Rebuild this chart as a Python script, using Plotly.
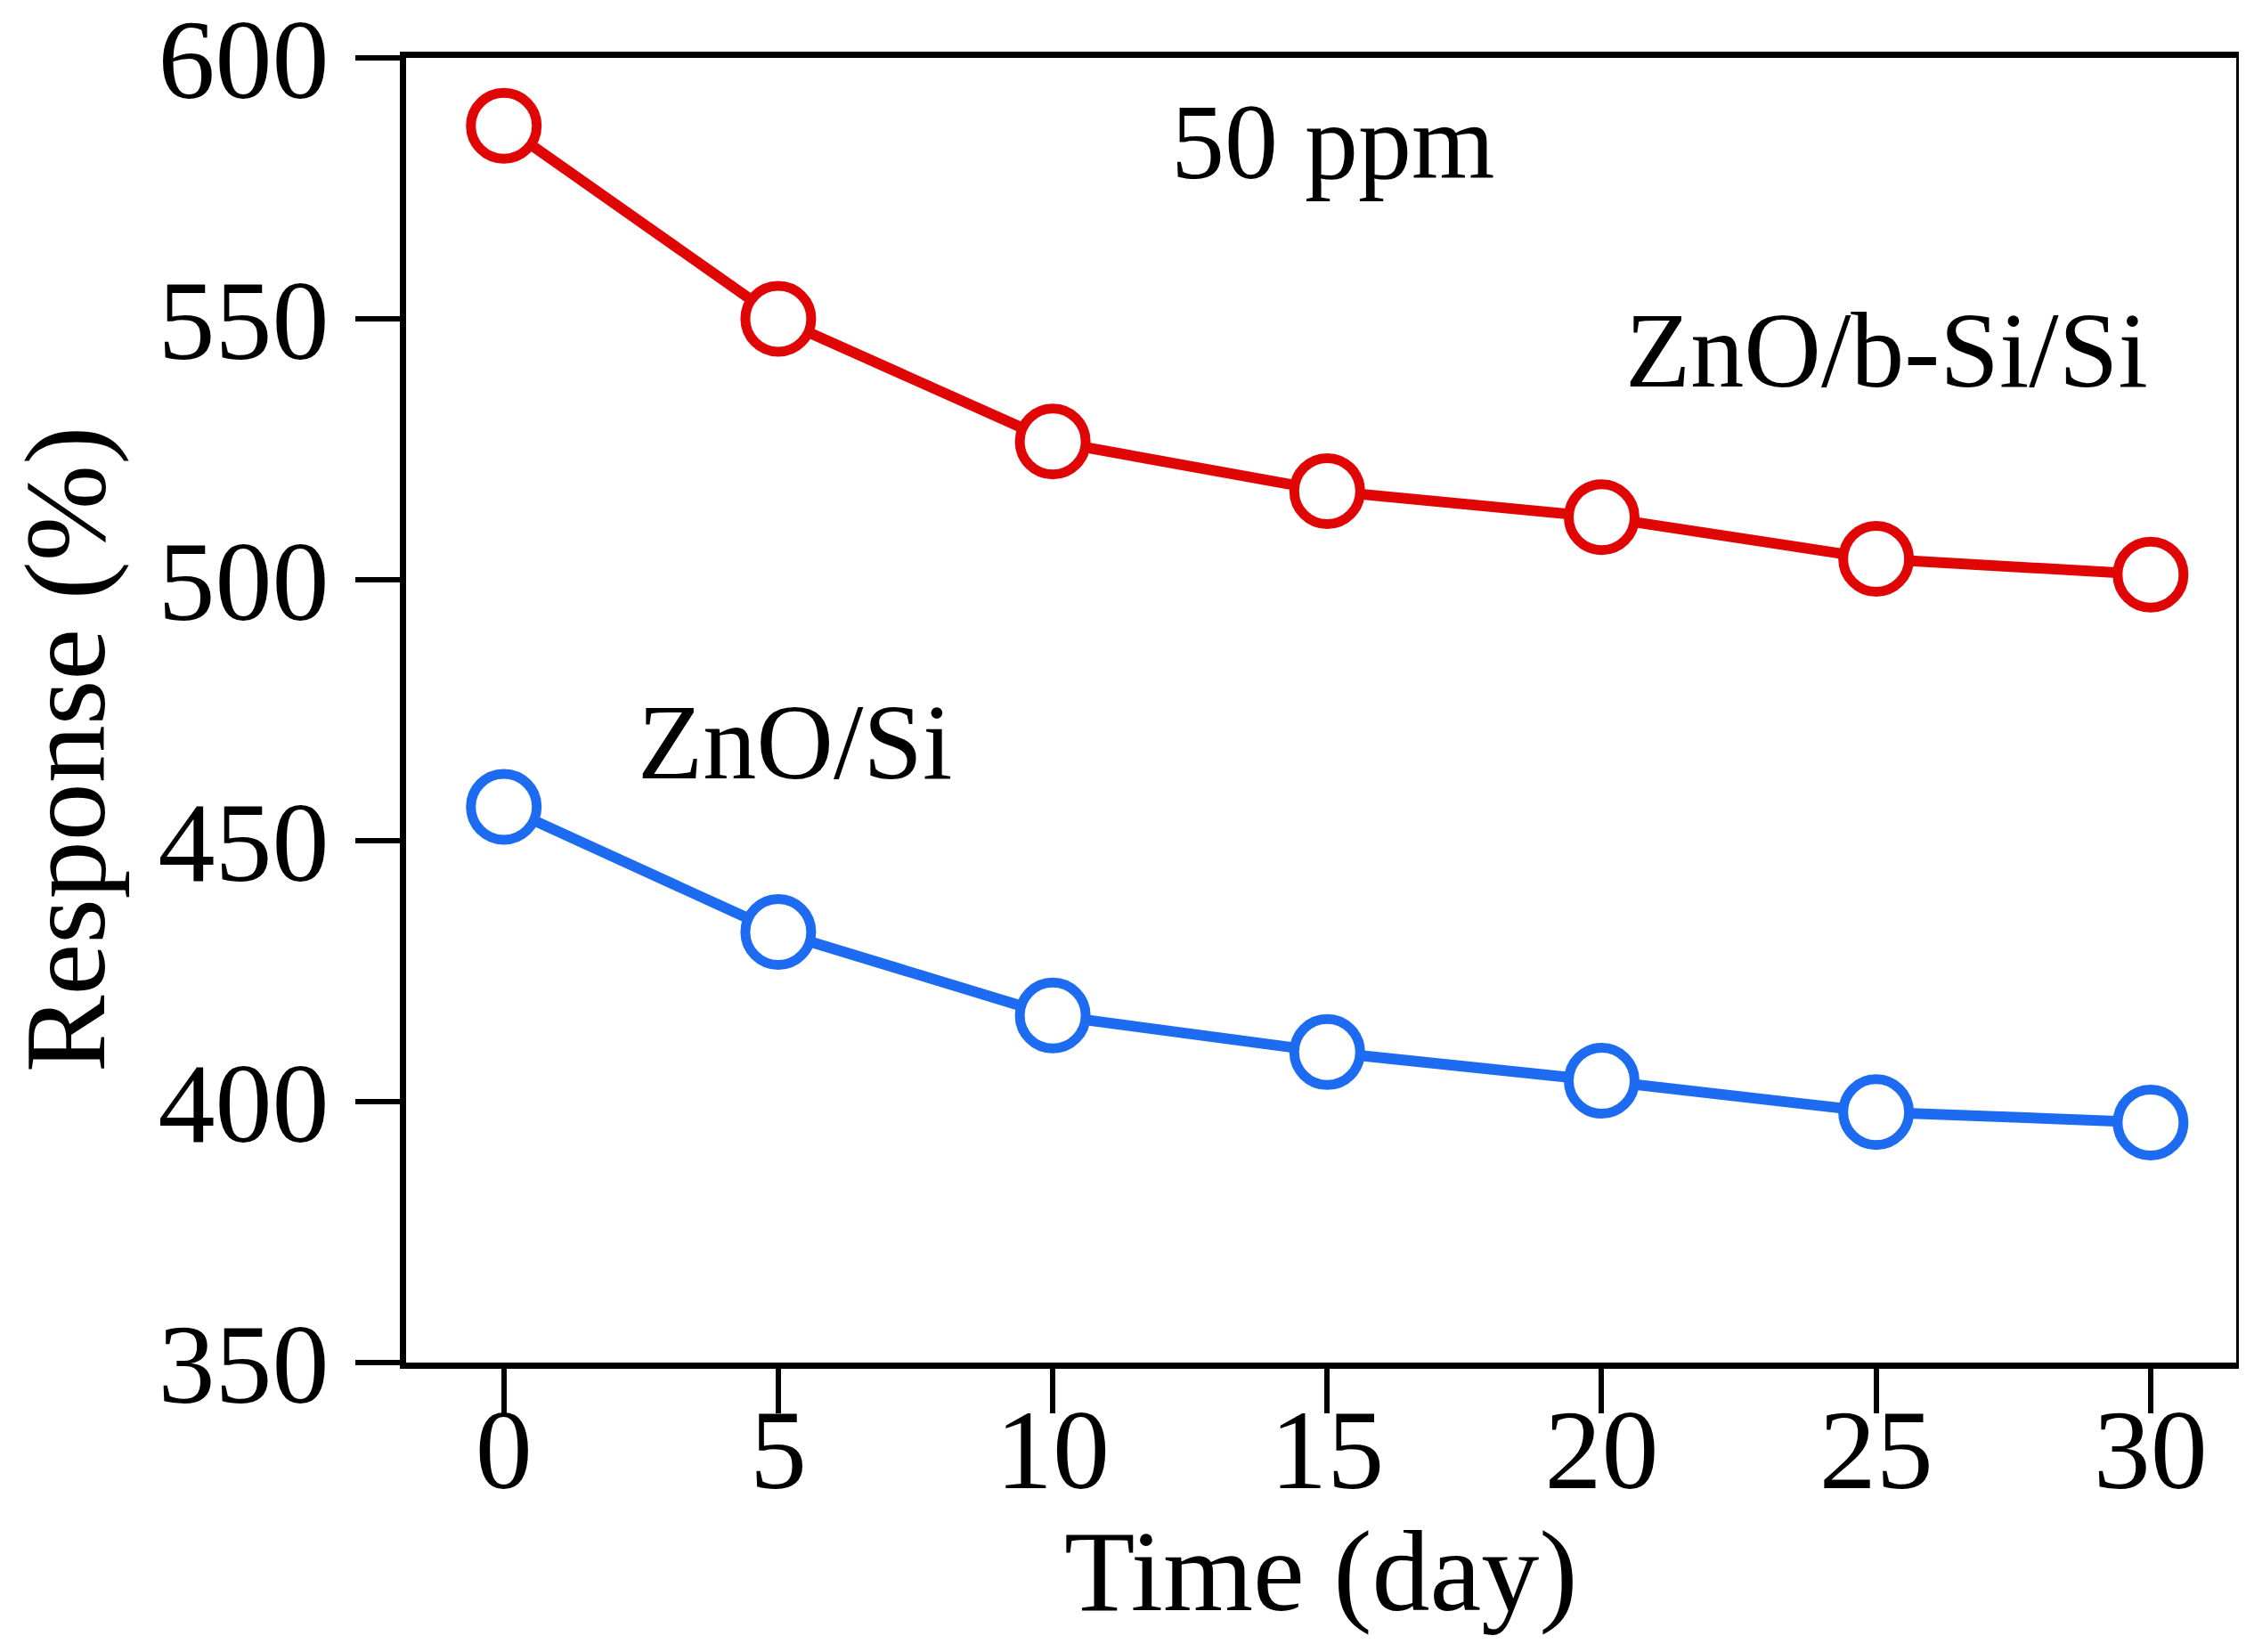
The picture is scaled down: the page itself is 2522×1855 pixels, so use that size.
import plotly.graph_objects as go

# Data
days = [0, 5, 10, 15, 20, 25, 30]
zno_bsi_si = [587, 550, 526.5, 517, 512, 504, 501]
zno_si = [456.5, 432.5, 416.5, 409.5, 404, 398, 396]

x_ticks = [0, 5, 10, 15, 20, 25, 30]
y_ticks = [350, 400, 450, 500, 550, 600]

RED = "#E00606"
BLUE = "#1C6BF0"
FONT = "Liberation Serif"

fig = go.Figure()
for ys, col in [(zno_bsi_si, RED), (zno_si, BLUE)]:
    fig.add_trace(go.Scatter(
        x=days, y=ys, mode="lines+markers",
        line=dict(color=col, width=12),
        marker=dict(symbol="circle", size=74, color="white",
                    line=dict(color=col, width=11)),
        showlegend=False, cliponaxis=False,
    ))

fig.update_layout(
    width=2522, height=1855, autosize=False,
    margin=dict(l=448, r=19, t=57, b=333),
    paper_bgcolor="white", plot_bgcolor="white",
    font=dict(family=FONT, color="black"),
)

fig.update_xaxes(
    range=[-1.78, 31.56], tickvals=x_ticks, ticktext=[str(v) for v in x_ticks],
    ticks="outside", ticklen=50, tickwidth=6, tickcolor="black",
    showline=True, linewidth=7, linecolor="black", mirror=True,
    showgrid=False, zeroline=False, ticklabelstandoff=-70,
    ticklabeloverflow="allow", automargin=False,
    tickfont=dict(family=FONT, size=128, color="black"),
)
fig.update_yaxes(
    range=[350, 600], tickvals=y_ticks, ticktext=[str(v) for v in y_ticks],
    ticks="outside", ticklen=50, tickwidth=6, tickcolor="black",
    showline=True, linewidth=7, linecolor="black", mirror=True,
    showgrid=False, zeroline=False, ticklabelstandoff=4,
    ticklabeloverflow="allow", automargin=False,
    tickfont=dict(family=FONT, size=128, color="black"),
)

ann_font = dict(family=FONT, size=120, color="black")
fig.add_annotation(text="50 ppm", xref="x", yref="y", x=15.1, y=583.8,
                   showarrow=False, font=ann_font, xanchor="center", yanchor="middle")
fig.add_annotation(text="ZnO/b-Si/Si", xref="x", yref="y", x=25.2, y=544,
                   showarrow=False, font=ann_font, xanchor="center", yanchor="middle")
fig.add_annotation(text="ZnO/Si", xref="x", yref="y", x=5.3, y=468.8,
                   showarrow=False, font=ann_font, xanchor="center", yanchor="middle")

fig.add_annotation(text="Time (day)", xref="paper", yref="paper", x=0.5, y=-0.160,
                   showarrow=False, font=dict(family=FONT, size=130, color="black"),
                   xanchor="center", yanchor="middle")
fig.add_annotation(text="Response (%)", xref="paper", yref="paper", x=-0.186, y=0.47,
                   showarrow=False, textangle=-90,
                   font=dict(family=FONT, size=130, color="black"),
                   xanchor="center", yanchor="middle")

fig.write_html("out.html")
